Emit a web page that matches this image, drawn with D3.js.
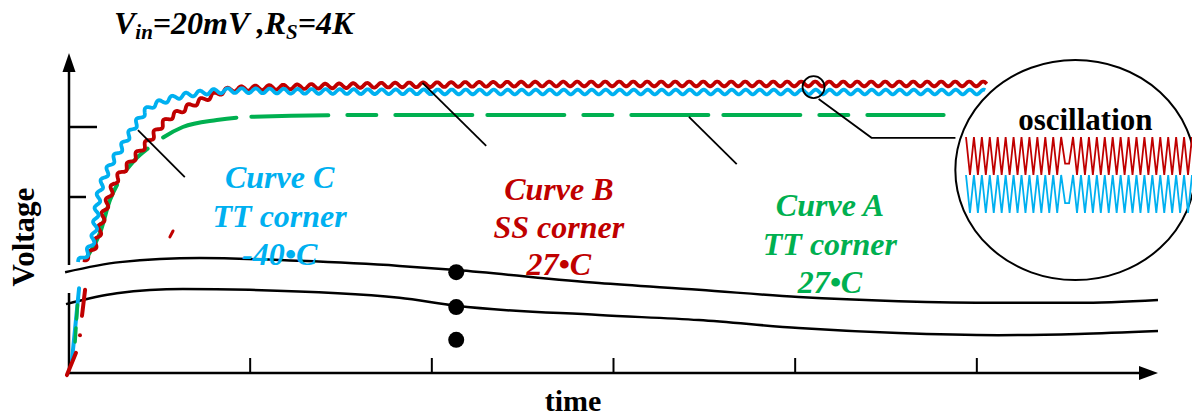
<!DOCTYPE html>
<html>
<head>
<meta charset="utf-8">
<script src="https://cdn.jsdelivr.net/npm/d3@7"></script>
<style>
  body { margin: 0; background: #fff; }
  svg { display: block; }
  text { font-family: "Liberation Serif", "Times New Roman", serif; font-weight: bold; }
</style>
</head>
<body>
<svg id="chart" width="1192" height="418"></svg>
<script>
// ---- data (time, voltage) ----
const xTicks = [1, 2, 3, 4, 5];
const yTicks = [0.6, 0.8];

// upper panel curves (envelope of each trace)
const curveC = [[0.055,0.414],[0.137,0.477],[0.165,0.591],[0.22,0.677],[0.297,0.743],[0.352,0.791],
  [0.434,0.849],[0.544,0.877],[0.725,0.897],[0.907,0.904],[1.27,0.902],[2.5,0.9],[5.05,0.9]];
const curveB = [[0.082,0.42],[0.159,0.477],[0.203,0.563],[0.247,0.629],[0.341,0.697],[0.434,0.754],
  [0.544,0.82],[0.632,0.849],[0.78,0.886],[0.907,0.908],[1.27,0.915],[1.82,0.92],[2.92,0.923],[5.06,0.923]];
const curveA = [[0.1,0.426],[0.176,0.497],[0.231,0.591],[0.286,0.649],[0.368,0.706],[0.451,0.743],
  [0.632,0.8],[0.819,0.82],[1.0,0.829],[1.55,0.834],[4.82,0.834]];
const stray = [[0.561,0.486],[0.578,0.503]];

// lower panel (start of the rise, below the axis break)
const lowC = [[0.022,0.031],[0.061,0.202]];
const lowB1 = [[-0.006,-0.005],[0.044,0.048]];
const lowB2 = [[0.077,0.136],[0.094,0.198]];
const lowBdot = [[0.066,0.09]];
const lowA = [[0.039,0.074],[0.055,0.181]];

// axis-break curves
const breakUpper = [[-0.016,0.24],[0.286,0.264],[0.725,0.274],[1.275,0.267],[1.824,0.255],[2.137,0.245],
  [2.923,0.214],[3.473,0.198],[4.022,0.181],[4.571,0.171],[5.121,0.167],[5.56,0.167],[6.0,0.174]];
const breakLower = [[-0.011,0.164],[0.269,0.19],[0.632,0.2],[1.0,0.198],[1.824,0.179],[2.137,0.16],
  [2.923,0.138],[3.473,0.126],[4.022,0.107],[4.571,0.095],[5.121,0.09],[5.56,0.093],[6.0,0.1]];
const dots = [0.24, 0.157, 0.079];
const dotsT = 2.137;

// zoomed oscillation (normalised levels)
const oscRed = [1,0,1,0,1,0,1,0,1,0, 1,0,1,0,1,0,1,0,1,0, 1,0,1,0,1,0.3,0.3,1,0,1,
  0,1,0,1,0,1,0,1,0,1, 0,1,0,1,0,1,0,1,0,1, 0,1,0,1,0,1,0,1];
const oscBlue = [1,0,1,0,1,0,1,0,1,0, 1,0,1,0,1,0,1,0,1,0, 1,0,1,0,1,0.26,0.26,1,0,1,
  0,1,0,1,0,1,0,1,0,1, 0,1,0,1,0,1,0,1,0,1, 0,1,0,1,0,1,0,1];

const labelC = ["Curve C", "TT corner", "-40\u2022C"];
const labelB = ["Curve B", "SS corner", "27\u2022C"];
const labelA = ["Curve A", "TT corner", "27\u2022C"];

// ---- layout ----
const RED = "#c00000", BLUE = "#00b0f0", GREEN = "#00b050";
const svg = d3.select('#chart');

const x = d3.scaleLinear().domain([0, 6]).range([68, 1158]);
const yTop = d3.scaleLinear().domain([0.4, 1.0]).range([267, 57]);
const yLow = d3.scaleLinear().domain([0, 0.2]).range([373, 289]);

const lineTop = d3.line().x(d => x(d[0])).y(d => yTop(d[1])).curve(d3.curveMonotoneX);
const lineLow = d3.line().x(d => x(d[0])).y(d => yLow(d[1]));
const lineBreak = d3.line().x(d => x(d[0])).y(d => yLow(d[1])).curve(d3.curveMonotoneX);

// wavy stroke drawn along the library-built curve
function wavy(points, amp, period, phase) {
  const tmp = svg.append('path').attr('d', lineTop(points));
  const node = tmp.node();
  const L = node.getTotalLength();
  const pts = [];
  for (let s = 0; s <= L; s += 1) {
    const p = node.getPointAtLength(s);
    const a = node.getPointAtLength(Math.max(0, s - 0.7));
    const b = node.getPointAtLength(Math.min(L, s + 0.7));
    const dx = b.x - a.x, dy = b.y - a.y, n = Math.hypot(dx, dy) || 1;
    const off = amp * Math.sin(2 * Math.PI * s / period + phase);
    pts.push([p.x - dy / n * off, p.y + dx / n * off]);
  }
  tmp.remove();
  return d3.line()(pts);
}

// axis break curves
[breakUpper, breakLower].forEach(c => {
  svg.append('path').attr('d', lineBreak(c))
    .attr('fill', 'none').attr('stroke', '#000').attr('stroke-width', 2.5);
});
svg.selectAll('circle.dot').data(dots).enter().append('circle')
  .attr('class', 'dot').attr('cx', x(dotsT)).attr('cy', d => yLow(d)).attr('r', 8).attr('fill', '#000');

// axes
const ax = svg.append('g').attr('stroke', '#000').attr('stroke-width', 2.5);
ax.append('line').attr('x1', x(0) + 1).attr('x2', x(0) + 1).attr('y1', 265).attr('y2', 70);
ax.append('line').attr('x1', x(0) + 1).attr('x2', x(0) + 1).attr('y1', 293).attr('y2', yLow(0));
svg.append('path').attr('d', `M${x(0)+1},53 L${x(0)-5.5},72 L${x(0)+7.5},72 Z`).attr('fill', '#000');
ax.append('line').attr('x1', x(0)).attr('x2', x(6) - 10).attr('y1', yLow(0)).attr('y2', yLow(0));
svg.append('path').attr('d', `M${x(6)},${yLow(0)} L${x(6)-19},${yLow(0)-7} L${x(6)-19},${yLow(0)+7} Z`).attr('fill', '#000');

const xAxis = d3.axisBottom(x).tickValues(xTicks).tickSize(-15).tickFormat('');
svg.append('g').attr('transform', `translate(0,${yLow(0)})`).call(xAxis)
  .call(g => g.select('.domain').remove())
  .call(g => g.selectAll('.tick line').attr('stroke', '#000').attr('stroke-width', 2));
const yTickLen = [18, 29];
svg.selectAll('line.ytick').data(yTicks).enter().append('line')
  .attr('x1', x(0)).attr('x2', (d, i) => x(0) + yTickLen[i])
  .attr('y1', d => yTop(d)).attr('y2', d => yTop(d))
  .attr('stroke', '#000').attr('stroke-width', 2.5);

// curve A (dashed)
const pathA = svg.append('path').attr('d', lineTop(curveA)).attr('fill', 'none')
  .attr('stroke', GREEN).attr('stroke-width', 4).attr('stroke-linecap', 'round');
const dashPattern = [77, 15, 77, 19, 29, 19];
{
  const node = pathA.node(), L = node.getTotalLength();
  let s = 0;
  while (s < L && node.getPointAtLength(s).x < 395) s += 0.5;
  const per = d3.sum(dashPattern);
  pathA.attr('stroke-dasharray', dashPattern.join(',')).attr('stroke-dashoffset', per - (s % per));
}

// curves B and C with ripple
svg.append('path').attr('d', wavy(curveB, 2.4, 14, 0)).attr('fill', 'none')
  .attr('stroke', RED).attr('stroke-width', 3.8).attr('stroke-linejoin', 'round');
svg.append('path').attr('d', wavy(curveC, 2.4, 14, Math.PI)).attr('fill', 'none')
  .attr('stroke', BLUE).attr('stroke-width', 3.8).attr('stroke-linejoin', 'round');
svg.append('path').attr('d', lineTop(stray)).attr('stroke', RED).attr('stroke-width', 3).attr('stroke-linecap', 'round');

// lower panel fragments
svg.append('path').attr('d', lineLow(lowC)).attr('stroke', BLUE).attr('stroke-width', 4).attr('stroke-linecap', 'round');
svg.append('path').attr('d', lineLow(lowA)).attr('stroke', GREEN).attr('stroke-width', 3.5)
  .attr('stroke-dasharray', '14,9').attr('stroke-linecap', 'round');
[lowB1, lowB2].forEach(c => svg.append('path').attr('d', lineLow(c))
  .attr('stroke', RED).attr('stroke-width', 4).attr('stroke-linecap', 'round'));
svg.selectAll('circle.rdot').data(lowBdot).enter().append('circle').attr('class', 'rdot')
  .attr('cx', d => x(d[0])).attr('cy', d => yLow(d[1])).attr('r', 2).attr('fill', RED);

// leader lines
const leaders = [
  [[0.385,0.791],[0.643,0.657]],
  [[1.951,0.926],[2.302,0.746]],
  [[3.418,0.829],[3.681,0.694]],
  [[4.132,0.88],[4.423,0.769],[4.885,0.769]]
];
leaders.forEach(l => svg.append('path')
  .attr('d', d3.line().x(d => x(d[0])).y(d => yTop(d[1]))(l))
  .attr('fill', 'none').attr('stroke', '#000').attr('stroke-width', 1.8));
svg.append('circle').attr('cx', x(4.104)).attr('cy', yTop(0.914)).attr('r', 11)
  .attr('fill', 'none').attr('stroke', '#000').attr('stroke-width', 1.8);

// zoom circle with oscillation
const cx = x(5.545), cy = yTop(0.677);
svg.append('ellipse').attr('cx', cx).attr('cy', cy).attr('rx', 120).attr('ry', 110)
  .attr('fill', '#fff').attr('stroke', '#000').attr('stroke-width', 2);
svg.append('text').attr('x', cx + 10).attr('y', 130).attr('text-anchor', 'middle')
  .attr('font-size', 31).attr('fill', '#000').text('oscillation');
const xo = d3.scaleLinear().domain([0, oscRed.length - 1]).range([966, 1192]);
const yoR = d3.scaleLinear().domain([0, 1]).range([175, 137]);
const yoB = d3.scaleLinear().domain([0, 1]).range([213, 175]);
svg.append('path').attr('d', d3.line().x((d, i) => xo(i)).y(d => yoR(d))(oscRed))
  .attr('fill', 'none').attr('stroke', RED).attr('stroke-width', 1.8);
svg.append('path').attr('d', d3.line().x((d, i) => xo(i)).y(d => yoB(d))(oscBlue))
  .attr('fill', 'none').attr('stroke', BLUE).attr('stroke-width', 1.8);

// curve labels
function label(lines, t, vs, color) {
  lines.forEach((s, i) => svg.append('text')
    .attr('x', x(t)).attr('y', yTop(vs[i])).attr('text-anchor', 'middle')
    .attr('font-size', 32).attr('font-style', 'italic').attr('fill', color).text(s));
}
label(labelC, 1.165, [0.626, 0.514, 0.406], BLUE);
label(labelB, 2.702, [0.591, 0.483, 0.377], RED);
label(labelA, 4.194, [0.546, 0.434, 0.326], GREEN);

// title and axis titles
const title = svg.append('text').attr('x', 114).attr('y', 34).attr('font-size', 32).attr('font-style', 'italic');
title.append('tspan').text('V');
title.append('tspan').attr('font-size', 21).attr('dy', 5).text('in');
title.append('tspan').attr('dy', -5).text('=20mV ,R');
title.append('tspan').attr('font-size', 21).attr('dy', 5).text('S');
title.append('tspan').attr('dy', -5).text('=4K');

svg.append('text').attr('transform', 'translate(34,237) rotate(-90)').attr('text-anchor', 'middle')
  .attr('font-size', 31).text('Voltage');
svg.append('text').attr('x', 573).attr('y', 411).attr('text-anchor', 'middle')
  .attr('font-size', 30).text('time');
</script>
</body>
</html>
